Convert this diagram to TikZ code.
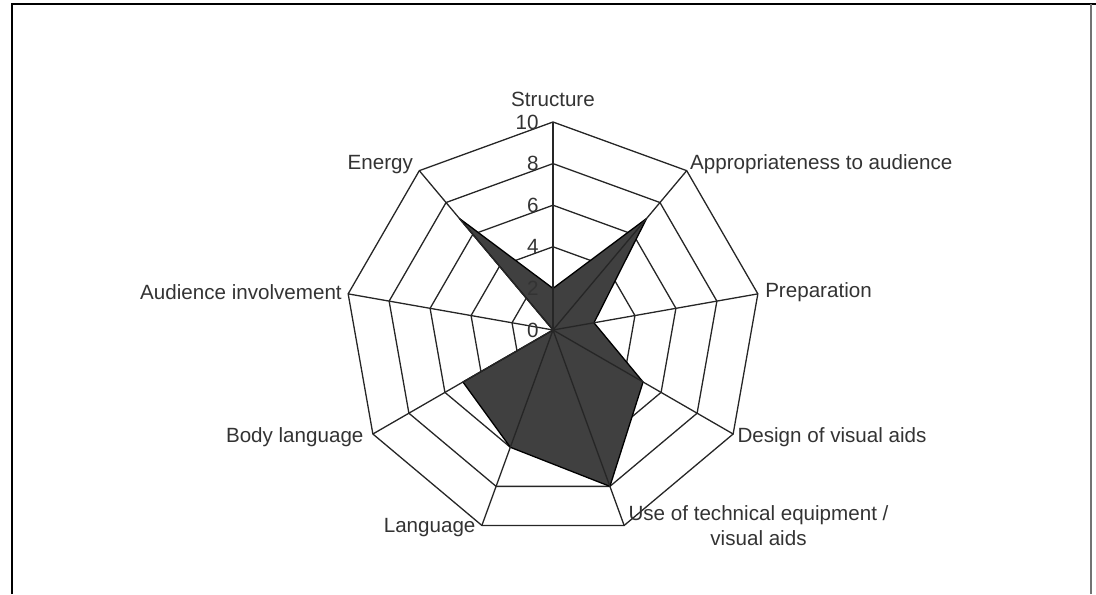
\documentclass[tikz,border=0pt]{standalone}
\usepackage{fontspec}
\setmainfont{Liberation Sans}
\usetikzlibrary{positioning}

\begin{document}
\begin{tikzpicture}[
		x=0.5pt, y=0.5pt,
		every node/.style={font=\fontsize{10.3}{12.5}\selectfont, text=black!80, inner sep=1pt},
		web/.style={draw=black!85, line width=0.65pt},
		score/.style={fill=black!75, draw=black, line width=0.65pt, line join=round},
		frame/.style={draw=black, line width=0.8pt}
		]
		\useasboundingbox (0,0) rectangle (1096,594);
		% page frame
		\draw[frame] (12,0) -- (12,590) -- (1096,590);
		\draw[frame, draw=black!55, line width=1pt] (1091,0) -- (1091,590);
		
		\begin{scope}[shift={(553,264)}]
			% axis ends (10 = 208)
			\coordinate (o) at (0,0);
			\coordinate (str) at (90:208);
			\coordinate (app) at (50:208);
			\coordinate (pre) at (10:208);
			\coordinate (des) at (-30:208);
			\coordinate (use) at (-70:208);
			\coordinate (lan) at (-110:208);
			\coordinate (bod) at (-150:208);
			\coordinate (aud) at (170:208);
			\coordinate (ene) at (130:208);
			
			% rings
			\foreach \r in {41.6,83.2,124.8,166.4,208}
			\draw[web] (90:\r) \foreach \a in {50,10,-30,-70,-110,-150,170,130} {-- (\a:\r)} -- cycle;
			
			% scores
			\draw[score] (90:20.8*2) -- (50:20.8*7) -- (10:20.8*2) -- (-30:20.8*5)
			-- (-70:20.8*8) -- (-110:20.8*6) -- (-150:20.8*5) -- (o) -- (130:20.8*7) -- cycle;
			
			% spokes
			\foreach \n in {str,app,pre,des,use,lan,bod,aud,ene}
			\draw[web] (o) -- (\n);
			
			% scale
			\foreach \v in {0,2,...,10}
			\node[anchor=east, xshift=-6pt] (tick\v) at (90:20.8*\v) {\v};
		\end{scope}
		
		% axis labels
		\node[above=6.5pt of str] (lstr) {Structure};
		\node[anchor=west, xshift=0.5pt, yshift=3pt] (lapp) at (app) {Appropriateness to audience};
		\node[anchor=west, xshift=2.5pt, yshift=1pt] (lpre) at (pre) {Preparation};
		\node[anchor=west, xshift=1pt, yshift=-1.5pt] (ldes) at (des) {Design of visual aids};
		\node[anchor=north west, align=center, xshift=1pt, yshift=11pt] (luse) at (use) {Use of technical equipment /\\visual aids};
		\node[anchor=east, xshift=-2pt, yshift=-1pt] (llan) at (lan) {Language};
		\node[anchor=east, xshift=-3.5pt, yshift=-1.5pt] (lbod) at (bod) {Body language};
		\node[anchor=east, xshift=-2pt, yshift=1pt] (laud) at (aud) {Audience involvement};
		\node[anchor=east, xshift=-2pt, yshift=3pt] (lene) at (ene) {Energy};
		
\end{tikzpicture}
\end{document}
